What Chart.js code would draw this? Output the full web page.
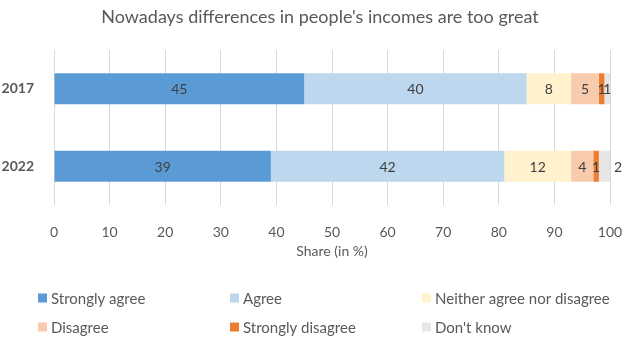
<!DOCTYPE html>
<html>
<head>
<meta charset="utf-8">
<script src="https://cdn.jsdelivr.net/npm/chart.js@4/dist/chart.umd.min.js"></script>
<style>
  html, body { margin: 0; padding: 0; background: #fff; }
  #wrap { width: 625px; height: 342px; }
</style>
</head>
<body>
<div id="wrap"><canvas id="incomes" width="625" height="342"></canvas></div>
<script>
const chartTitle = "Nowadays differences in people's incomes are too great";
const years = ['2017', '2022'];
const answers = ['Strongly agree', 'Agree', 'Neither agree nor disagree', 'Disagree', 'Strongly disagree', "Don't know"];
const stronglyAgree = [45, 39];
const agree = [40, 42];
const neither = [8, 12];
const disagree = [5, 4];
const stronglyDisagree = [1, 1];
const dontKnow = [1, 2];
const xTicks = [0, 10, 20, 30, 40, 50, 60, 70, 80, 90, 100];

const colors = ['#5B9BD5', '#BDD7EE', '#FFF2CC', '#F8CBAD', '#ED7D31', '#E7E6E6'];
const values = [stronglyAgree, agree, neither, disagree, stronglyDisagree, dontKnow];
const FONT = 'Lato, "Open Sans", sans-serif';

// value labels inside the segments
const barLabels = {
    id: 'barLabels',
    afterDatasetsDraw(chart) {
        const c = chart.ctx;
        c.save();
        c.font = '14px ' + FONT;
        c.fillStyle = '#404040';
        c.textAlign = 'center';
        c.textBaseline = 'middle';
        chart.data.datasets.forEach((ds, i) => {
            chart.getDatasetMeta(i).data.forEach((bar, j) => {
                let x = (bar.x + bar.base) / 2;
                // the last small segment of the second row sits outside the bar
                if (i === chart.data.datasets.length - 1 && j === 1) x = bar.x + 8;
                c.fillText(String(ds.data[j]), x, bar.y + 1);
            });
        });
        c.restore();
    }
};

// title centred over the whole figure, legend in three fixed columns underneath
const frame = {
    id: 'frame',
    afterDraw(chart) {
        const c = chart.ctx;
        c.save();
        c.fillStyle = '#595959';
        c.font = '18px ' + FONT;
        c.textAlign = 'center';
        c.textBaseline = 'middle';
        c.fillText(chartTitle, 320, 17);

        const cols = [38, 230, 422];
        const rows = [298, 327];
        c.font = '15px ' + FONT;
        c.textAlign = 'left';
        chart.data.datasets.forEach((ds, i) => {
            const x = cols[i % 3];
            const y = rows[Math.floor(i / 3)];
            c.fillStyle = ds.backgroundColor;
            c.fillRect(x, y - 4.5, 9, 9);
            c.fillStyle = '#595959';
            c.fillText(ds.label, x + 13, y + 1);
        });
        c.restore();
    }
};

new Chart(document.getElementById('incomes'), {
    type: 'bar',
    data: {
        labels: years,
        datasets: answers.map((name, i) => ({
            label: name,
            data: values[i],
            backgroundColor: colors[i],
            borderWidth: 0,
            categoryPercentage: 1,
            barPercentage: 0.4
        }))
    },
    options: {
        indexAxis: 'y',
        responsive: false,
        animation: false,
        layout: { padding: { left: 0, right: 15, top: 50, bottom: 82 } },
        plugins: {
            legend: { display: false },
            tooltip: { enabled: false },
            title: { display: false }
        },
        scales: {
            x: {
                stacked: true,
                min: 0,
                max: 100,
                afterBuildTicks(scale) {
                    scale.ticks = xTicks.map(v => ({ value: v }));
                },
                afterFit(scale) {
                    scale.height = 55;
                    scale.paddingLeft = 0;
                    scale.paddingRight = 0;
                },
                grid: { color: '#D9D9D9', drawTicks: false, lineWidth: 1 },
                border: { display: false },
                ticks: { color: '#595959', font: { family: FONT, size: 14 }, padding: 19 },
                title: {
                    display: true,
                    text: 'Share (in %)',
                    color: '#595959',
                    font: { family: FONT, size: 14 },
                    padding: { top: 0, bottom: 0 }
                }
            },
            y: {
                stacked: true,
                grid: { display: false },
                border: { display: false },
                ticks: { color: '#595959', font: { family: FONT, size: 14, weight: 'bold' }, padding: 12 },
                afterFit(scale) { scale.width = 54; }
            }
        }
    },
    plugins: [barLabels, frame]
});
</script>
</body>
</html>
